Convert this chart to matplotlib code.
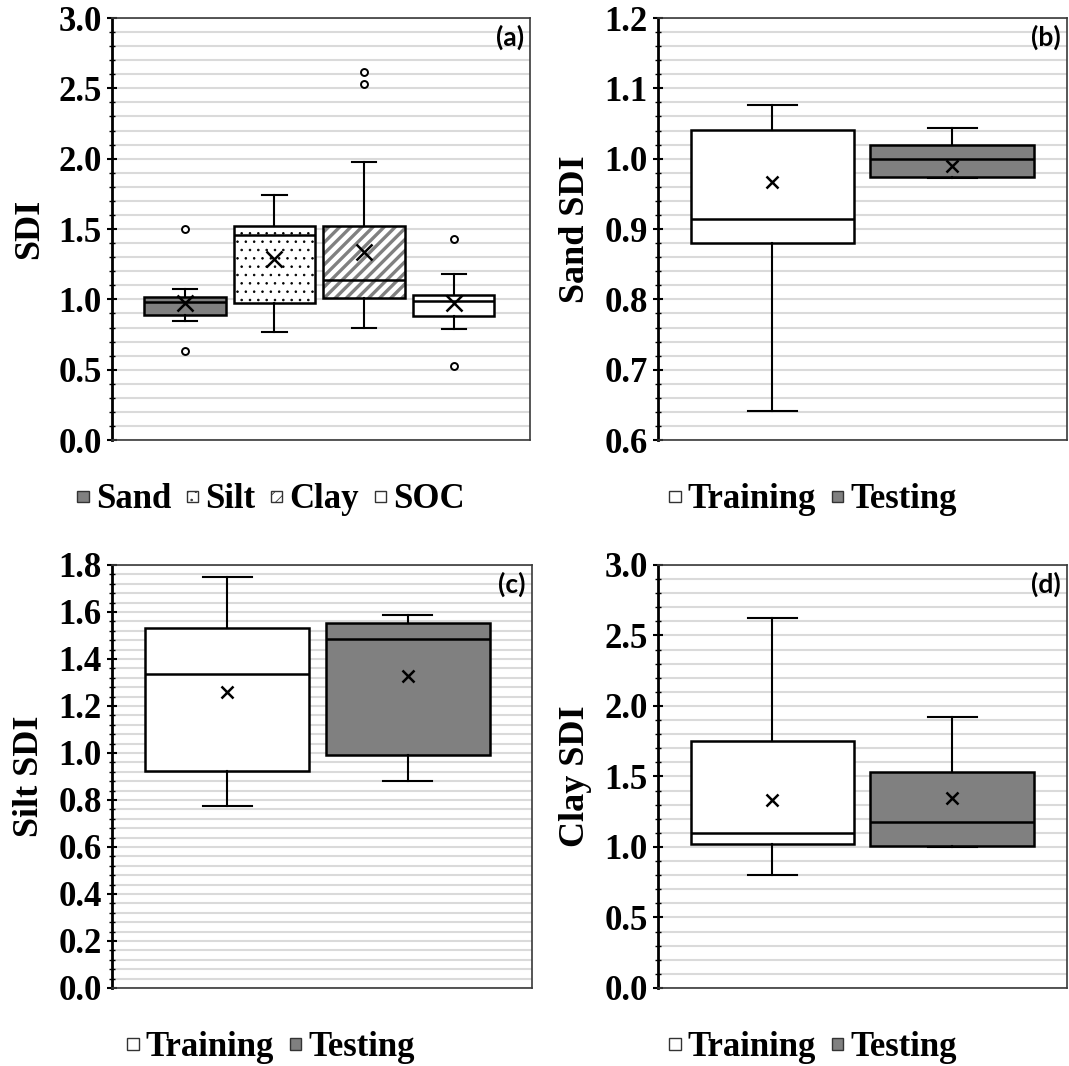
import matplotlib
matplotlib.use("Agg")
import matplotlib.pyplot as plt
from matplotlib.patches import Patch, PathPatch, Rectangle
from matplotlib.legend_handler import HandlerPatch
from matplotlib.ticker import MultipleLocator, FormatStrFormatter
from matplotlib.font_manager import FontProperties

plt.rcParams["font.family"] = ["Liberation Serif", "DejaVu Serif"]
plt.rcParams["font.weight"] = "bold"
plt.rcParams["hatch.linewidth"] = 0.6

# (a) SDI by soil property
a_names = ["Sand", "Silt", "Clay", "SOC"]
a_whislo = [0.847, 0.769, 0.796, 0.791]
a_q1 = [0.889, 0.974, 1.013, 0.884]
a_med = [0.981, 1.461, 1.140, 0.991]
a_q3 = [1.020, 1.524, 1.524, 1.030]
a_whishi = [1.076, 1.741, 1.975, 1.179]
a_mean = [0.974, 1.286, 1.339, 0.974]
a_fliers = [[1.502, 0.636], [], [2.613, 2.532], [1.429, 0.526]]

# (b)-(d) training vs testing
split_names = ["Training", "Testing"]

sand_whislo = [0.641, 0.972]
sand_q1 = [0.880, 0.974]
sand_med = [0.914, 0.999]
sand_q3 = [1.041, 1.019]
sand_whishi = [1.077, 1.043]
sand_mean = [0.967, 0.989]

silt_whislo = [0.774, 0.879]
silt_q1 = [0.923, 0.990]
silt_med = [1.334, 1.485]
silt_q3 = [1.531, 1.551]
silt_whishi = [1.749, 1.586]
silt_mean = [1.261, 1.327]

clay_whislo = [0.798, 1.002]
clay_q1 = [1.021, 1.007]
clay_med = [1.102, 1.176]
clay_q3 = [1.751, 1.530]
clay_whishi = [2.622, 1.922]
clay_mean = [1.333, 1.349]

GRAY = "#808080"
a_styles = [
    dict(fc=GRAY, hatch=None),
    dict(fc="white", hatch=".."),
    dict(fc="white", hatch="///"),
    dict(fc="white", hatch=None),
]
split_styles = [dict(fc="white", hatch=None), dict(fc=GRAY, hatch=None)]

tick_font = dict(family=["Liberation Serif", "DejaVu Serif"], weight="bold", size=25)


def make_stats(names, whislo, q1, med, q3, whishi, mean, fliers=None):
    stats = []
    for i, name in enumerate(names):
        stats.append(dict(label=name, whislo=whislo[i], q1=q1[i], med=med[i],
                          q3=q3[i], whishi=whishi[i], mean=mean[i],
                          fliers=fliers[i] if fliers else []))
    return stats


def hatch_patch(path, hatch, **kw):
    # stripes get a heavier hatch line than the dots
    lw = 2.4 if hatch.startswith("/") else 0.6
    color = GRAY if hatch.startswith("/") else "black"
    with plt.rc_context({"hatch.linewidth": lw}):
        p = PathPatch(path, facecolor="white", edgecolor=color, hatch=hatch, lw=0, **kw)
    if hasattr(p, "set_hatch_linewidth"):
        p.set_hatch_linewidth(lw)
    return p


def draw_panel(ax, stats, styles, ylim, major, minor, xlim, tag, xsize):
    n = len(stats)
    res = ax.bxp(stats, positions=range(1, n + 1), widths=0.91, patch_artist=True,
                 showmeans=True, showfliers=True, capwidths=0.27,
                 boxprops=dict(lw=1.8, edgecolor="black"),
                 whiskerprops=dict(lw=1.5, color="black"),
                 capprops=dict(lw=1.5, color="black"),
                 medianprops=dict(lw=1.8, color="black"),
                 meanprops=dict(marker="x", markersize=xsize, mec="black", mew=1.8),
                 flierprops=dict(marker="o", markersize=5, mfc="white", mec="black", mew=1.4))
    for box, st in zip(res["boxes"], styles):
        box.set_facecolor(st["fc"])
        if st["hatch"]:
            box.set_facecolor("none")
            ax.add_patch(hatch_patch(box.get_path(), st["hatch"], zorder=1.9))

    ax.set_ylim(*ylim)
    ax.set_xlim(*xlim)
    ax.yaxis.set_major_locator(MultipleLocator(major))
    ax.yaxis.set_minor_locator(MultipleLocator(minor))
    ax.yaxis.set_major_formatter(FormatStrFormatter("%.1f"))
    ax.grid(which="both", axis="y", color="#dadada", lw=1.5)
    ax.set_axisbelow(True)
    ax.set_xticks([])
    ax.tick_params(axis="y", which="major", direction="inout", length=7, width=1.5, pad=4)
    ax.tick_params(axis="y", which="minor", direction="inout", length=4, width=1.0)
    for lab in ax.get_yticklabels():
        lab.set_fontproperties(FontProperties(**tick_font))
    for side in ["top", "right", "bottom"]:
        ax.spines[side].set_color("#3a3a3a")
        ax.spines[side].set_linewidth(1.2)
    ax.spines["left"].set_color("black")
    ax.spines["left"].set_linewidth(2.0)
    ax.text(0.985, 0.955, tag, transform=ax.transAxes, ha="right", va="center",
            family=["Lato", "DejaVu Sans"], fontweight="bold", fontsize=19)


def square_key(legend, orig_handle, xdescent, ydescent, width, height, fontsize):
    # small square key, centred on the text height
    return Rectangle((-xdescent, -ydescent + (height - width) / 2), width, width)


def add_legend(ax, names, styles, center):
    handles = []
    for st in styles:
        if st["hatch"]:
            lw = 1.2 if st["hatch"].startswith("/") else 0.6
            with plt.rc_context({"hatch.linewidth": lw}):
                h = Patch(facecolor="white", edgecolor="#333333", lw=1.0, hatch=st["hatch"])
        else:
            h = Patch(facecolor=st["fc"], edgecolor="#333333", lw=1.0)
        handles.append(h)
    ax.legend(handles, names, loc="center", bbox_to_anchor=center,
              bbox_transform=ax.figure.transFigure, ncol=len(names), frameon=False,
              handlelength=0.33, handleheight=0.7, handletextpad=0.2,
              columnspacing=0.45, borderaxespad=0,
              handler_map={Patch: HandlerPatch(patch_func=square_key)},
              prop=dict(family=["Liberation Serif", "DejaVu Serif"],
                        weight="bold", size=25))


fig = plt.figure(figsize=(10.69, 10.66), dpi=100)
ax_a = fig.add_axes([0.1048, 0.5872, 0.3910, 0.3959])
ax_b = fig.add_axes([0.6155, 0.5872, 0.3826, 0.3959])
ax_c = fig.add_axes([0.1048, 0.0732, 0.3929, 0.3968])
ax_d = fig.add_axes([0.6155, 0.0732, 0.3826, 0.3968])

draw_panel(ax_a, make_stats(a_names, a_whislo, a_q1, a_med, a_q3, a_whishi, a_mean, a_fliers),
           a_styles, (0, 3.0), 0.5, 0.1, (0.186, 4.853), "(a)", 11)
draw_panel(ax_b, make_stats(split_names, sand_whislo, sand_q1, sand_med, sand_q3, sand_whishi, sand_mean),
           split_styles, (0.6, 1.2), 0.1, 0.02, (0.364, 2.637), "(b)", 8)
draw_panel(ax_c, make_stats(split_names, silt_whislo, silt_q1, silt_med, silt_q3, silt_whishi, silt_mean),
           split_styles, (0, 1.8), 0.2, 0.04, (0.361, 2.689), "(c)", 8)
draw_panel(ax_d, make_stats(split_names, clay_whislo, clay_q1, clay_med, clay_q3, clay_whishi, clay_mean),
           split_styles, (0, 3.0), 0.5, 0.1, (0.364, 2.637), "(d)", 8)

label_font = dict(family=["Liberation Serif", "DejaVu Serif"], fontweight="bold", fontsize=26,
                  rotation=90, ha="center", va="center")
fig.text(30 / 1069, 1 - 229 / 1066, "SDI", **label_font)
fig.text(575 / 1069, 1 - 229 / 1066, "Sand SDI", **label_font)
fig.text(30 / 1069, 1 - 776 / 1066, "Silt SDI", **label_font)
fig.text(575 / 1069, 1 - 776 / 1066, "Clay SDI", **label_font)

add_legend(ax_a, a_names, a_styles, (0.2535, 0.531))
add_legend(ax_b, split_names, split_styles, (0.7605, 0.531))
add_legend(ax_c, split_names, split_styles, (0.2535, 0.017))
add_legend(ax_d, split_names, split_styles, (0.7605, 0.017))

fig.savefig("out.png", dpi=100)
